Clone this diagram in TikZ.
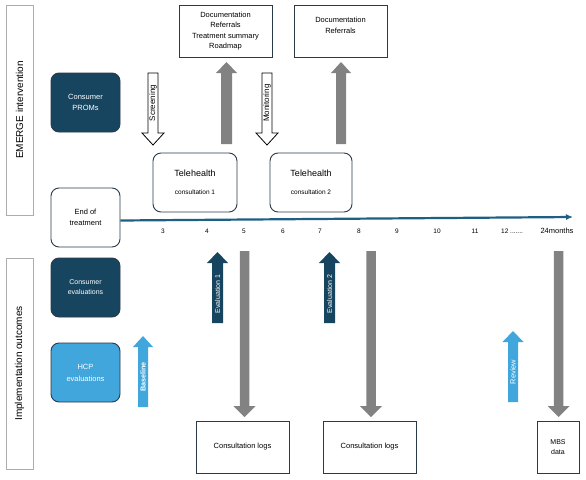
\documentclass[tikz,border=0pt]{standalone}
\usepackage{fontspec}
\setmainfont{Liberation Sans}
\usetikzlibrary{arrows.meta}
\definecolor{navy}{HTML}{17455F}
\definecolor{sky}{HTML}{40A6DC}
\definecolor{arrgrey}{HTML}{828282}
\definecolor{edge}{HTML}{2B3A48}
\definecolor{tline}{HTML}{1F5F86}
\newcommand{\fatarr}[7]{% style, xc, tail, tip, base, half shaft, half head
  \path[#1] (#2-#6,#3) -- (#2-#6,#5) -- (#2-#7,#5) -- (#2,#4) -- (#2+#7,#5) -- (#2+#6,#5) -- (#2+#6,#3) -- cycle;}
\begin{document}
\begin{tikzpicture}[x=1pt,y=-1pt,
  sidebox/.style={draw=gray!65, line width=0.8pt, fill=white, inner sep=0pt, font=\fontsize{10}{12}\selectfont},
  rbox/.style={draw=edge, line width=0.9pt, rounded corners=8pt, align=center, inner sep=0pt, font=\fontsize{7.5}{11}\selectfont},
  sqbox/.style={draw=edge, line width=0.9pt, align=center, inner sep=0pt, font=\fontsize{7.5}{10.5}\selectfont},
  lbl/.style={inner sep=0pt, align=center, font=\fontsize{7.5}{10.5}\selectfont},
  num/.style={inner sep=0pt, font=\fontsize{6.5}{8}\selectfont},
  arrlbl/.style={inner sep=0pt, rotate=90, font=\fontsize{7}{8}\selectfont},
  greyarr/.style={fill=arrgrey},
  hollowarr/.style={draw=black, fill=white, line width=0.8pt},
  navyarr/.style={fill=navy},
  skyarr/.style={fill=sky}]
\useasboundingbox (0,0) rectangle (586,479);
\fill[white] (0,0) rectangle (586,479);

% side labels
\node[sidebox, rotate=90, minimum width=210pt, minimum height=27pt] (emerge) at (19.5,110) {EMERGE intervention};
\node[sidebox, rotate=90, minimum width=211pt, minimum height=27pt] (impl) at (19.5,363.5) {Implementation outcomes};

% left boxes
\node[rbox, fill=navy, text=white, minimum width=69pt, minimum height=59pt] (proms) at (85.5,102.5) {Consumer\\PROMs};
\node[rbox, fill=white, minimum width=69pt, minimum height=59pt] (eot) at (85.5,217.5) {End of\\treatment};
\node[rbox, fill=navy, text=white, minimum width=69pt, minimum height=59pt, font=\fontsize{7}{10}\selectfont] (ceval) at (85.5,287.5) {Consumer\\evaluations};
\node[rbox, fill=sky, text=white, minimum width=69pt, minimum height=59pt, font=\fontsize{7.5}{12}\selectfont] (hcp) at (85.5,372.5) {HCP\\evaluations};

% telehealth boxes
\node[rbox, fill=white, minimum width=84pt, minimum height=59pt, font=\fontsize{9}{18}\selectfont] (tele1) at (195,182.5) {Telehealth\\{\fontsize{6.5}{8}\selectfont consultation 1}};
\node[rbox, fill=white, minimum width=82pt, minimum height=59pt, font=\fontsize{9}{18}\selectfont] (tele2) at (311,182.5) {Telehealth\\{\fontsize{6.5}{8}\selectfont consultation 2}};

% documentation boxes
\node[sqbox, minimum width=93pt, minimum height=52pt] (doc1) at (225.5,31) {Documentation\\Referrals\\Treatment summary\\Roadmap};
\node[sqbox, minimum width=93pt, minimum height=52pt] (doc2) at (340.5,31) {};
\node[lbl] (doc2t) at (340.5,25.5) {Documentation\\Referrals};

% output boxes
\node[sqbox, minimum width=93pt, minimum height=52pt, font=\fontsize{7.5}{10}\selectfont] (logs1) at (242.5,447) {Consultation logs};
\node[sqbox, minimum width=93pt, minimum height=52pt, font=\fontsize{7.5}{10}\selectfont] (logs2) at (369.5,447) {Consultation logs};
\node[sqbox, minimum width=42pt, minimum height=52pt, font=\fontsize{7}{10.5}\selectfont] (mbs) at (558,447) {MBS\\data};

% timeline
\coordinate (tend) at (573,217);
\draw[tline, line width=2.2pt, -{Latex[length=7pt,width=6pt]}] ([yshift=-3pt]eot.east) -- (tend);
\node[num] (m3) at (163,231) {3};
\node[num] (m4) at (207,231) {4};
\node[num] (m5) at (244,231) {5};
\node[num] (m6) at (283,231) {6};
\node[num] (m7) at (320,231) {7};
\node[num] (m8) at (359,231) {8};
\node[num] (m9) at (397,231) {9};
\node[num] (m10) at (437,231) {10};
\node[num] (m11) at (475,231) {11};
\node[num, anchor=west] (m12) at (501,231) {12 .......};
\node[num, font=\fontsize{7.5}{8}\selectfont] (m24) at (557,231) {24months};

% upper arrows
\fatarr{hollowarr}{153}{73}{145}{133}{5}{11}
\node[arrlbl, font=\fontsize{8}{8}\selectfont] (lscr) at (153,103) {Screening};
\fatarr{hollowarr}{267}{73}{145}{133}{5}{11}
\node[arrlbl, font=\fontsize{8}{8}\selectfont] (lmon) at (267,103) {Monitoring};
\fatarr{greyarr}{226.5}{144}{62}{73}{5.5}{10.5}
\fatarr{greyarr}{341}{144}{62}{73}{5}{10}

% lower arrows
\fatarr{skyarr}{143}{407}{336}{347}{5}{10}
\node[arrlbl, text=white, font=\bfseries\fontsize{7.2}{8}\selectfont] (lbase) at (143,377) {Baseline};
\fatarr{navyarr}{217.5}{323}{252}{263}{5.5}{10.5}
\node[arrlbl, text=white] (lev1) at (217.5,294) {Evaluation 1};
\fatarr{navyarr}{329.5}{323}{252}{263}{5.5}{10.5}
\node[arrlbl, text=white] (lev2) at (329.5,294) {Evaluation 2};
\fatarr{skyarr}{513}{402}{331}{342}{5}{10.5}
\node[arrlbl, text=white, font=\fontsize{7.5}{8}\selectfont] (lrev) at (513,372) {Review};
\fatarr{greyarr}{244.5}{251}{417}{406}{4.75}{11}
\fatarr{greyarr}{371}{251}{417}{406}{4.75}{11}
\fatarr{greyarr}{558.5}{251}{417}{406}{4.75}{11}
\end{tikzpicture}
\end{document}
